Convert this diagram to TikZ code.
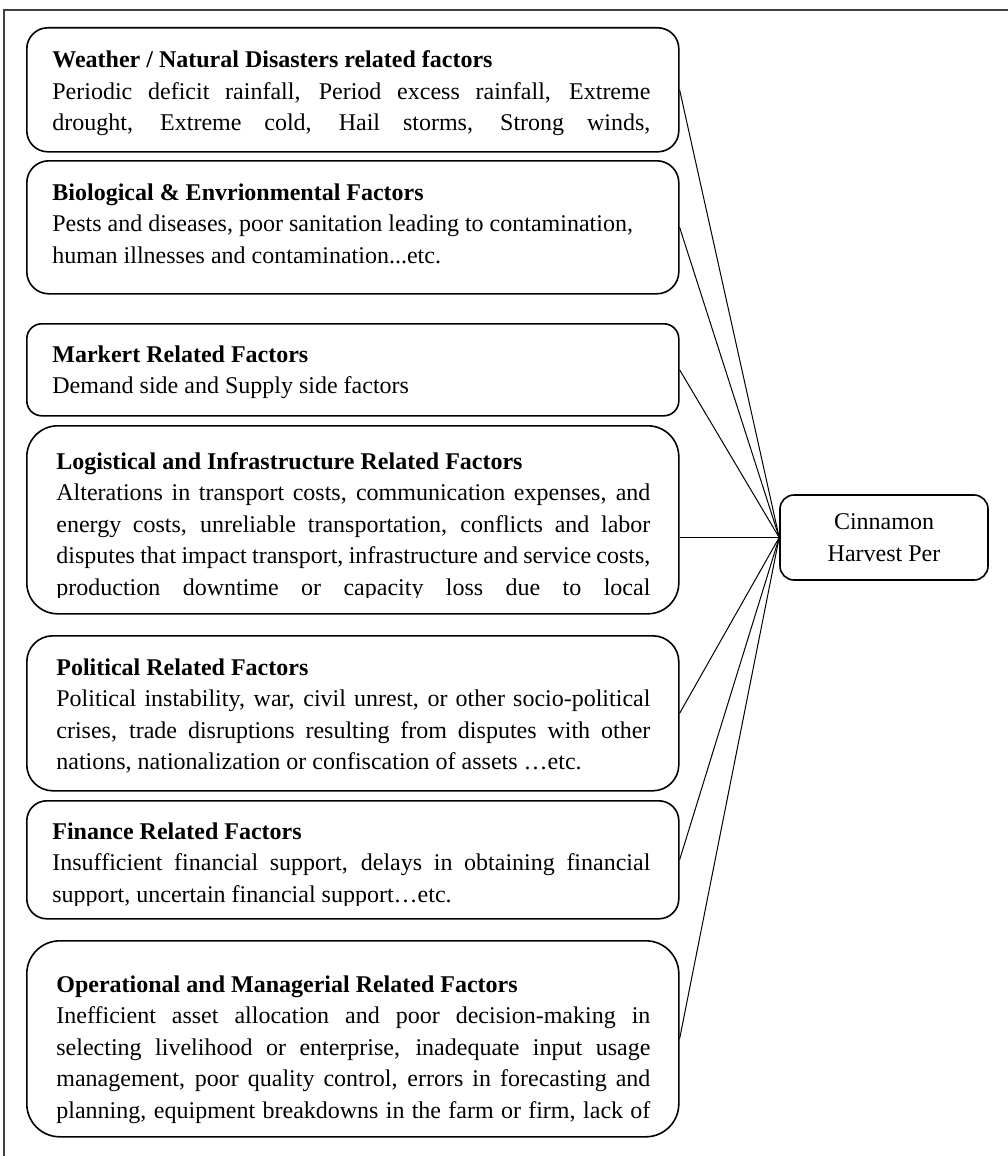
\documentclass[tikz,border=0pt]{standalone}
\usepackage{fontspec}
\setmainfont{Liberation Serif}
\usetikzlibrary{positioning}

% one line of a box, spread to the full width or set flush left
\newlength{\factorwd}
\newcommand{\jline}[1]{\makebox[\factorwd][s]{#1}}
\newcommand{\eline}[1]{\makebox[\factorwd][l]{#1}}

\tikzset{
  factor/.style={draw, line width=0.8pt, rounded corners=#1, inner sep=0pt,
    minimum width=326pt, anchor=north west},
  factortext/.style={anchor=base west, inner sep=0pt, text width=#1,
    execute at begin node={\setlength{\factorwd}{#1}\spaceskip=3pt plus 12pt minus 1pt},
    font=\fontsize{12pt}{15.75pt}\selectfont},
  link/.style={line width=0.5pt}
}

\begin{document}
\begin{tikzpicture}[x=0.5pt, y=-0.5pt]
    \useasboundingbox (0,0) rectangle (1007,1156);
    \draw[line width=0.7pt, black!75] (4,1160) -- (4,10) -- (1010,10);

    % factor boxes
    \node[factor=10.5pt, minimum height=62pt] (weather) at (26,27) {};
    \node[factor=11pt, minimum height=66.5pt] (biology) at (26,160) {};
    \node[factor=7.5pt, minimum height=46pt] (market) at (26,323) {};
    \node[factor=15.5pt, minimum height=94pt] (logistic) at (26,425) {};
    \node[factor=13pt, minimum height=77.5pt] (political) at (26,635) {};
    \node[factor=10pt, minimum height=59pt] (finance) at (26,800) {};
    \node[factor=16.5pt, minimum height=98pt] (operation) at (26,940) {};

    \node[draw, line width=0.8pt, rounded corners=7pt, inner sep=0pt,
        minimum width=104pt, minimum height=42.5pt, align=center,
        font=\fontsize{12pt}{16pt}\selectfont] (harvest) at (884,537.5)
        {Cinnamon\\Harvest Per};

    % texts, cut off at the lower edge as in the text boxes
    \begin{scope}
        \clip ([yshift=5pt]weather.south west) rectangle (weather.north east);
        \node[factortext=299pt] (weathertxt) at (52,68) {%
            \textbf{Weather / Natural Disasters related factors}\\
            \jline{Periodic deficit rainfall, Period excess rainfall, Extreme}\\
            \jline{drought, Extreme cold, Hail storms, Strong winds,}};
    \end{scope}
    \begin{scope}
        \clip ([yshift=5pt]biology.south west) rectangle (biology.north east);
        \node[factortext=299pt] (biologytxt) at (52,200) {%
            \textbf{Biological \& Envrionmental Factors}\\
            \eline{Pests and diseases, poor sanitation leading to contamination,}\\
            \eline{human illnesses and contamination...etc.}};
    \end{scope}
    \begin{scope}
        \clip ([yshift=5pt]market.south west) rectangle (market.north east);
        \node[factortext=299pt] (markettxt) at (52,362) {%
            \textbf{Markert Related Factors}\\
            \eline{Demand side and Supply side factors}};
    \end{scope}
    \begin{scope}
        \clip ([yshift=8.5pt]logistic.south west) rectangle (logistic.north east);
        \node[factortext=297pt] (logistictxt) at (56,469) {%
            \textbf{Logistical and Infrastructure Related Factors}\\
            \jline{Alterations in transport costs, communication expenses, and}\\
            \jline{energy costs, unreliable transportation, conflicts and labor}\\
            \jline{disputes that impact transport, infrastructure and service costs,}\\
            \jline{production downtime or capacity loss due to local}};
    \end{scope}
    \begin{scope}
        \clip ([yshift=5pt]political.south west) rectangle (political.north east);
        \node[factortext=297pt] (politicaltxt) at (56,675) {%
            \textbf{Political Related Factors}\\
            \jline{Political instability, war, civil unrest, or other socio-political}\\
            \jline{crises, trade disruptions resulting from disputes with other}\\
            \eline{nations, nationalization or confiscation of assets …etc.}};
    \end{scope}
    \begin{scope}
        \clip ([yshift=7pt]finance.south west) rectangle (finance.north east);
        \node[factortext=299pt] (financetxt) at (52,839) {%
            \textbf{Finance Related Factors}\\
            \jline{Insufficient financial support, delays in obtaining financial}\\
            \eline{support, uncertain financial support…etc.}};
    \end{scope}
    \begin{scope}
        \clip ([yshift=5pt]operation.south west) rectangle (operation.north east);
        \node[factortext=297pt] (operationtxt) at (56,992) {%
            \textbf{Operational and Managerial Related Factors}\\
            \jline{Inefficient asset allocation and poor decision-making in}\\
            \jline{selecting livelihood or enterprise, inadequate input usage}\\
            \jline{management, poor quality control, errors in forecasting and}\\
            \jline{planning, equipment breakdowns in the farm or firm, lack of}};
    \end{scope}

    % connectors
    \foreach \f in {weather,biology,market,political,finance,operation}
        \draw[link] (\f.east) -- (harvest.west);
    \draw[link] (harvest.west -| logistic.east) -- (harvest.west);
\end{tikzpicture}
\end{document}
